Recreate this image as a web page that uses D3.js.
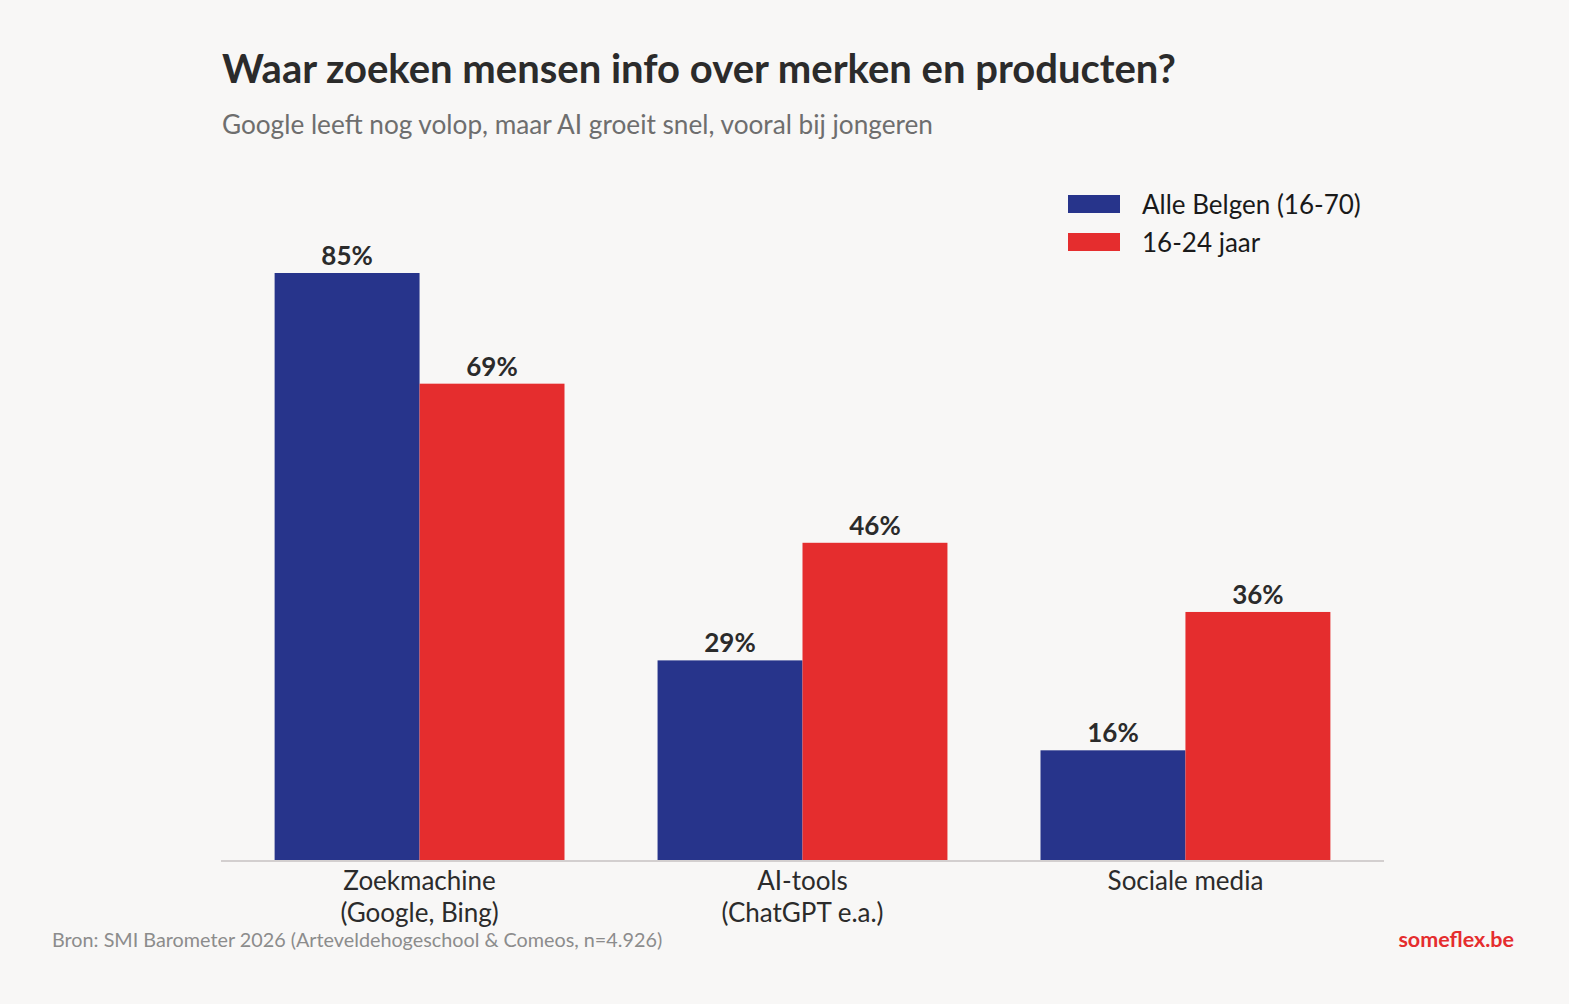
<!DOCTYPE html>
<html>
<head>
<meta charset="utf-8">
<script src="https://cdn.jsdelivr.net/npm/d3@7"></script>
<style>
  body { margin: 0; background: #f8f7f6; }
  svg { display: block; font-family: Lato, "Noto Sans", sans-serif; }
</style>
</head>
<body>
<div id="graf"></div>
<script>
// Datos
const categorias = ['Zoekmachine\n(Google, Bing)', 'AI-tools\n(ChatGPT e.a.)', 'Sociale media']
const series = ['Alle Belgen (16-70)', '16-24 jaar']
const alleBelgen = [85, 29, 16]
const jongeren = [69, 46, 36]
const colores = ['#27348b', '#e52d2e']

const data = categorias.map((c, i) => ({ categoria: c, valores: [alleBelgen[i], jongeren[i]] }))

// Dimensiones
const anchoTotal = 1569
const altoTotal = 1004
const fuente = 'Lato, "Noto Sans", sans-serif'

const svg = d3.select('#graf').append('svg')
    .attr('width', anchoTotal)
    .attr('height', altoTotal)

svg.append('rect')
    .attr('width', anchoTotal)
    .attr('height', altoTotal)
    .attr('fill', '#f8f7f6')

// Escaladores
const y = d3.scaleLinear()
    .domain([0, 85])
    .range([861, 273])

const x = d3.scaleBand()
    .domain(categorias)
    .range([221, 1384])
    .paddingInner(0.243)
    .paddingOuter(0.14)

const xSub = d3.scaleBand()
    .domain(series)
    .range([0, x.bandwidth()])

// Titulos
svg.append('text')
    .attr('x', 222)
    .attr('y', 83)
    .attr('font-size', 40)
    .attr('font-weight', 'bold')
    .attr('fill', '#2b2b2b')
    .text('Waar zoeken mensen info over merken en producten?')

svg.append('text')
    .attr('x', 222)
    .attr('y', 134)
    .attr('font-size', 26.2)
    .attr('fill', '#6e6e6e')
    .text('Google leeft nog volop, maar AI groeit snel, vooral bij jongeren')

// Barras
const grupos = svg.selectAll('g.grupo')
    .data(data)
    .join('g')
    .attr('class', 'grupo')
    .attr('transform', (d) => `translate(${x(d.categoria)}, 0)`)

grupos.selectAll('rect')
    .data((d) => d.valores.map((v, i) => ({ serie: series[i], valor: v, i })))
    .join('rect')
    .attr('x', (d) => xSub(d.serie))
    .attr('y', (d) => y(d.valor))
    .attr('width', xSub.bandwidth())
    .attr('height', (d) => y(0) - y(d.valor))
    .attr('fill', (d) => colores[d.i])

grupos.selectAll('text.etiqueta')
    .data((d) => d.valores.map((v, i) => ({ serie: series[i], valor: v })))
    .join('text')
    .attr('class', 'etiqueta')
    .attr('x', (d) => xSub(d.serie) + xSub.bandwidth() / 2)
    .attr('y', (d) => y(d.valor) - 8)
    .attr('text-anchor', 'middle')
    .attr('font-size', 26)
    .attr('font-weight', 'bold')
    .attr('fill', '#2b2b2b')
    .text((d) => `${d.valor}%`)

// Eje
const xAxis = d3.axisBottom(x).tickSize(0).tickPadding(0)
const ejeX = svg.append('g')
    .attr('transform', `translate(0, ${y(0)})`)
    .call(xAxis)
    .attr('font-family', fuente)

ejeX.select('.domain')
    .attr('stroke', '#d3cfcf')
    .attr('stroke-width', 2)
    .attr('d', `M221,0H1384`)

ejeX.selectAll('.tick text').remove()
ejeX.selectAll('.tick').each(function (d) {
    const lineas = d.split('\n')
    const t = d3.select(this).append('text')
        .attr('text-anchor', 'middle')
        .attr('font-size', 26)
        .attr('fill', '#2b2b2b')
    lineas.forEach((l, i) => {
        t.append('tspan')
            .attr('x', 0)
            .attr('y', 29 + i * 32)
            .text(l)
    })
})

// Leyenda
const leyenda = svg.append('g')
    .attr('transform', 'translate(1068, 195)')

series.forEach((s, i) => {
    leyenda.append('rect')
        .attr('x', 0)
        .attr('y', i * 38)
        .attr('width', 52)
        .attr('height', 18)
        .attr('fill', colores[i])
    leyenda.append('text')
        .attr('x', 74)
        .attr('y', i * 38 + 19)
        .attr('font-size', 26)
        .attr('fill', '#1a1a1a')
        .text(s)
})

// Pie
svg.append('text')
    .attr('x', 52)
    .attr('y', 947)
    .attr('font-size', 19.8)
    .attr('fill', '#8c8c8c')
    .text('Bron: SMI Barometer 2026 (Arteveldehogeschool & Comeos, n=4.926)')

svg.append('text')
    .attr('x', 1514)
    .attr('y', 947)
    .attr('text-anchor', 'end')
    .attr('font-size', 21.5)
    .attr('font-weight', 'bold')
    .attr('fill', '#e52d2e')
    .text('someflex.be')
</script>
</body>
</html>
